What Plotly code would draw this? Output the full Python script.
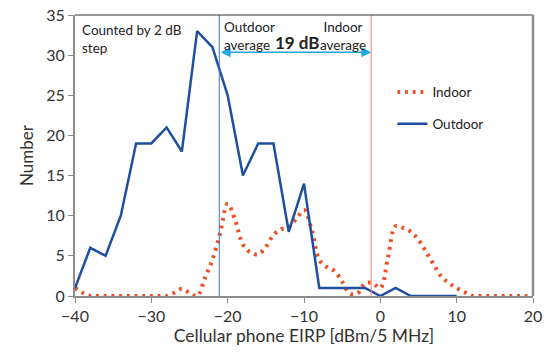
import plotly.graph_objects as go

outdoor_x = list(range(-40, 12, 2))
outdoor_y = [1, 6, 5, 10, 19, 19, 21, 18, 33, 31, 25, 15, 19, 19, 8, 14,
             1, 1, 1, 1, 0, 1, 0, 0, 0, 0]

indoor_x = list(range(-40, 21))
indoor_y = [1.0, 0.4, 0, 0, 0, 0, 0, 0, 0, 0, 0, 0, 0, 0.4, 0.9, 0.4, 0,
            2.2, 4.5, 7.8, 11.5, 9.4, 6.4, 5.4, 5.2, 6.1, 7.6, 8.3, 8.6, 9.6,
            10.7, 8.3, 4.5, 3.6, 3.1, 1.8, 0.3, 0.3, 1.6, 1.6, 1.0, 4.8, 8.7,
            8.5, 8.0, 7.0, 5.5, 3.9, 2.4, 1.6, 1.0, 0.5, 0.05,
            0, 0, 0, 0, 0, 0, 0, 0]

outdoor_avg = -21.1
indoor_avg = -1.2
diff_label = "19 dB"

FONT = "Lato"
fig = go.Figure()
fig.add_trace(go.Scatter(x=indoor_x, y=indoor_y, name="Indoor", mode="lines", legendgroup="a",
                         line=dict(color="#F04E23", width=4, dash="2.8px,4.9px",
                                   shape="spline", smoothing=1)))
fig.add_trace(go.Scatter(x=outdoor_x, y=outdoor_y, name="Outdoor", mode="lines", legendgroup="b",
                         line=dict(color="#1F4FA0", width=2.5)))

fig.add_shape(type="line", x0=outdoor_avg, x1=outdoor_avg, y0=0, y1=35,
              line=dict(color="#4472C4", width=1))
fig.add_shape(type="line", x0=indoor_avg, x1=indoor_avg, y0=0, y1=35,
              line=dict(color="#F4866E", width=1))

arrow_y = 30.35
fig.add_annotation(x=indoor_avg, y=arrow_y, ax=outdoor_avg, ay=arrow_y, axref="x", ayref="y",
                   text="", showarrow=True, arrowhead=2, arrowside="end+start",
                   arrowsize=1.3, arrowwidth=1.5, arrowcolor="#1AA7E0")

fig.add_annotation(x=-39.3, y=34.4, text="Counted by 2 dB<br>step", showarrow=False,
                   xanchor="left", yanchor="top", align="left",
                   font=dict(family=FONT, size=13.5, color="#222"))
fig.add_annotation(x=outdoor_avg + 0.4, y=34.75, text="Outdoor<br>average", showarrow=False,
                   xanchor="left", yanchor="top", align="left",
                   font=dict(family=FONT, size=13.5, color="#222"))
fig.add_annotation(x=indoor_avg - 0.45, y=34.75, text="Indoor<br>average", showarrow=False,
                   xanchor="right", yanchor="top", align="center",
                   font=dict(family=FONT, size=13.5, color="#222"))
fig.add_annotation(x=-10.8, y=31.6, text="<b>" + diff_label + "</b>", showarrow=False,
                   xanchor="center", yanchor="middle",
                   font=dict(family=FONT, size=17, color="#222"))

fig.update_layout(
    width=555, height=361,
    margin=dict(l=75, r=22, t=15, b=65),
    paper_bgcolor="white", plot_bgcolor="white",
    font=dict(family=FONT, size=15, color="#333"),
    showlegend=True,
    legend=dict(x=0.693, y=0.78, xanchor="left", yanchor="top",
                bgcolor="rgba(0,0,0,0)", font=dict(family=FONT, size=13.5, color="#222"),
                tracegroupgap=11),
    xaxis=dict(range=[-40, 20], dtick=10, tick0=-40, showgrid=False, zeroline=False,
               automargin=False,
               showline=True, linecolor="#8c8c8c", linewidth=2, mirror=False,
               ticks="outside", ticklen=5, tickcolor="#8c8c8c",
               title=dict(text="Cellular phone EIRP [dBm/5 MHz]", standoff=6,
                          font=dict(family=FONT, size=17.5, color="#333")),
               tickfont=dict(family=FONT, size=16, color="#333")),
    yaxis=dict(range=[0, 35], dtick=5, showgrid=False, zeroline=False,
               automargin=False,
               showline=True, linecolor="#8c8c8c", linewidth=2,
               ticks="outside", ticklen=5, tickcolor="#8c8c8c",
               title=dict(text="Number", standoff=8,
                          font=dict(family=FONT, size=17, color="#333")),
               tickfont=dict(family=FONT, size=16, color="#333")),
)
fig.add_shape(type="line", xref="paper", yref="paper", x0=0, x1=1, y0=1, y1=1,
              line=dict(color="#333", width=1.2))
fig.add_shape(type="line", xref="paper", yref="paper", x0=1, x1=1, y0=0, y1=1,
              line=dict(color="#8c8c8c", width=2.5))

fig.write_html("out.html")
